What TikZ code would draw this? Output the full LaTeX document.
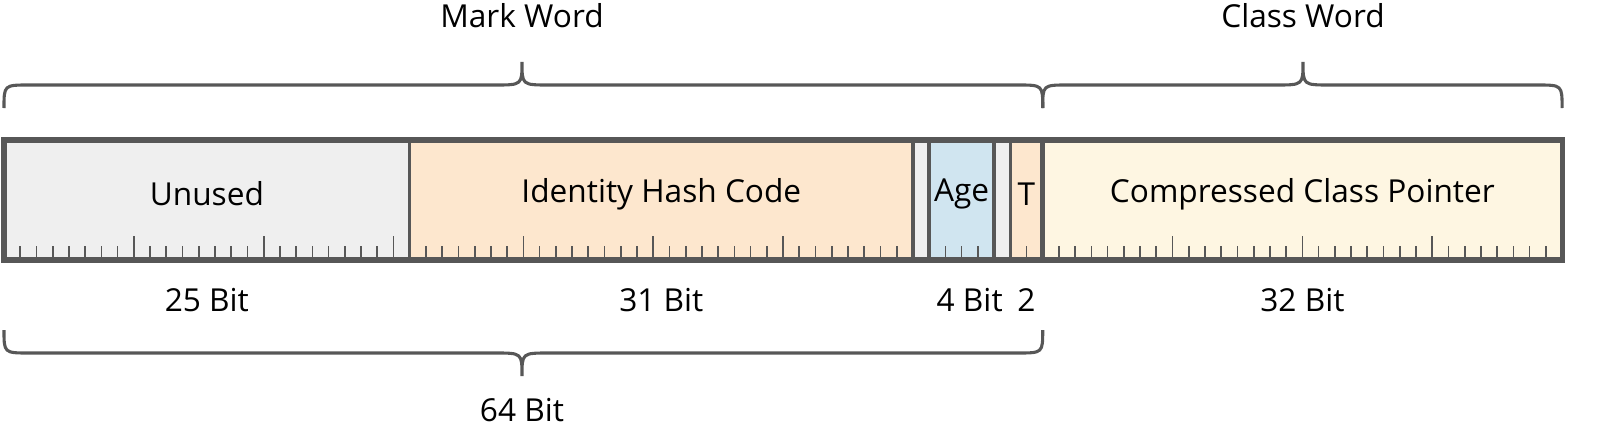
\documentclass[tikz,border=0pt]{standalone}
\usepackage{fontspec}
\setmainfont{Open Sans}
\usetikzlibrary{positioning}

\definecolor{frame}{HTML}{575757}
\definecolor{unused}{HTML}{EFEFEF}
\definecolor{hash}{HTML}{FDE7CE}
\definecolor{age}{HTML}{D0E5F0}
\definecolor{klass}{HTML}{FEF6E2}

\tikzset{
    lbl/.style={font=\fontsize{22.5}{26}\selectfont, inner sep=0pt, text=black},
    brace/.style={draw=frame, line width=2.2pt},
    sep/.style={draw=frame, line width=2.4pt},
}

% x in bits -> px
\newcommand{\bx}[1]{4+#1*16.23}

\begin{document}
\begin{tikzpicture}[x=0.025cm,y=-0.025cm]
            % fields
            \fill[unused] ({\bx{0}},140) rectangle ({\bx{25}},260);
            \fill[hash] ({\bx{25}},140) rectangle ({\bx{56}},260);
            \fill[unused] ({\bx{56}},140) rectangle ({\bx{57}},260);
            \fill[age] ({\bx{57}},140) rectangle ({\bx{61}},260);
            \fill[unused] ({\bx{61}},140) rectangle ({\bx{62}},260);
            \fill[hash] ({\bx{62}},140) rectangle ({\bx{64}},260);
            \fill[klass] ({\bx{64}},140) rectangle ({\bx{96}},260);

            % ticks
            \foreach \i in {1,...,95} {%
                \pgfmathsetmacro\h{mod(\i,8)==0 ? 22 : 12}%
                \ifnum\i=25\else\ifnum\i=56\else\ifnum\i=57\else\ifnum\i=61\else\ifnum\i=62\else\ifnum\i=64\else
                \draw[frame, line width=1.2pt] ({\bx{\i}},258) -- ++(0,-\h);%
                \fi\fi\fi\fi\fi\fi
            }

            % dividers
            \foreach \i in {25,56,57,61,62}
                \draw[sep] ({\bx{\i}},140) -- ({\bx{\i}},260);
            \draw[frame, line width=3.6pt] ({\bx{64}},140) -- ({\bx{64}},260);
            \draw[frame, line width=3.6pt] ({\bx{0}},140) rectangle ({\bx{96}},260);

            % field labels
            \node[lbl] (unusedtxt) at ({\bx{12.5}},194) {Unused};
            \node[lbl] (hashtxt) at ({\bx{40.5}},194) {Identity Hash Code};
            \node[lbl] (agetxt) at ({\bx{59}},194) {Age};
            \node[lbl] (ttxt) at ({\bx{63}},194) {T};
            \node[lbl] (klasstxt) at ({\bx{80}},194) {Compressed Class Pointer};

            % bit counts
            \node[lbl] (unusedbits) at ({\bx{12.5}},300) {25 Bit};
            \node[lbl] (hashbits) at ({\bx{40.5}},300) {31 Bit};
            \node[lbl] (agebits) at ({\bx{59.5}},300) {4 Bit};
            \node[lbl] (tbits) at ({\bx{63}},300) {2};
            \node[lbl] (klassbits) at ({\bx{80}},300) {32 Bit};

            % braces
            \draw[brace] ({\bx{0}},108) .. controls ({\bx{0}},85) .. ({\bx{0}+25},85)
                -- (495,85) .. controls (522,85) .. (522,62)
                .. controls (522,85) .. (549,85) -- ({\bx{64}-25},85)
                .. controls ({\bx{64}},85) .. ({\bx{64}},108);
            \draw[brace] ({\bx{64}},108) .. controls ({\bx{64}},85) .. ({\bx{64}+25},85)
                -- (1276,85) .. controls (1303,85) .. (1303,62)
                .. controls (1303,85) .. (1330,85) -- ({\bx{96}-25},85)
                .. controls ({\bx{96}},85) .. ({\bx{96}},108);
            \draw[brace] ({\bx{0}},330) .. controls ({\bx{0}},353) .. ({\bx{0}+25},353)
                -- (495,353) .. controls (522,353) .. (522,376)
                .. controls (522,353) .. (549,353) -- ({\bx{64}-25},353)
                .. controls ({\bx{64}},353) .. ({\bx{64}},330);

            \node[lbl] (markword) at (522,16) {Mark Word};
            \node[lbl] (classword) at (1303,16) {Class Word};
            \node[lbl] (total) at (522,410) {64 Bit};

            \pgfresetboundingbox
            \useasboundingbox (0,0) rectangle (1600,434);
\end{tikzpicture}
\end{document}
